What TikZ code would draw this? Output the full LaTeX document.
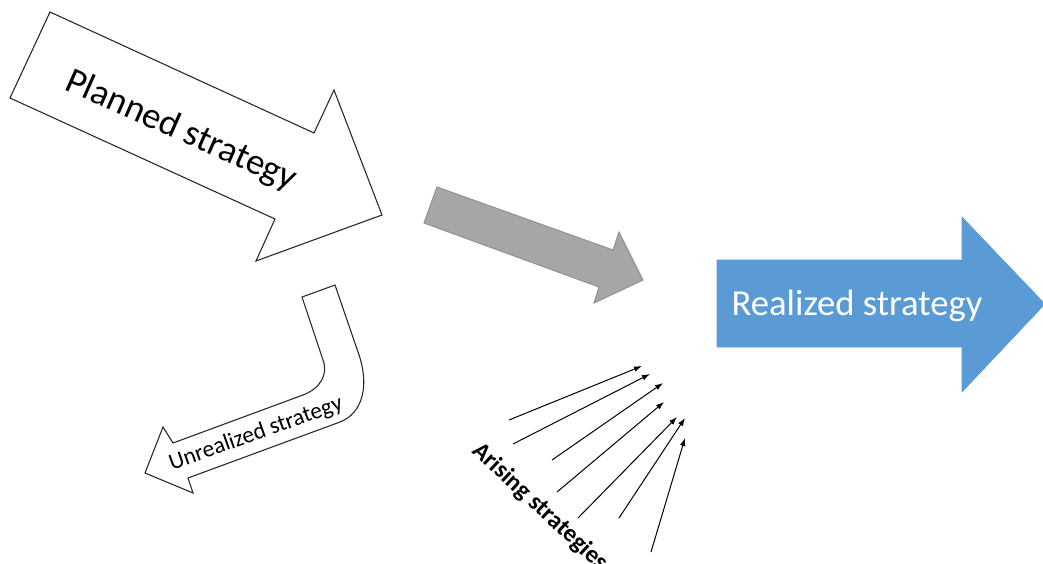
\documentclass[tikz,border=0pt]{standalone}
\usepackage{fontspec}
\setmainfont{Carlito}
\usetikzlibrary{arrows.meta}
\definecolor{realblue}{HTML}{5B9BD5}
\definecolor{midgray}{HTML}{A6A6A6}
\definecolor{edgegray}{HTML}{939393}
\begin{document}
\begin{tikzpicture}[x=0.75pt,y=-0.75pt,
  outline/.style={draw=black!85, line width=0.8pt, fill=white, line join=miter},
  grayshape/.style={draw=edgegray, line width=0.8pt, fill=midgray, line join=miter},
  blueshape/.style={draw=realblue, fill=realblue},
  bigtext/.style={font=\fontsize{27.5}{30}\selectfont},
  thinarrow/.style={draw=black, line width=0.75pt, -{Latex[length=6pt,width=4.2pt]}}]
\useasboundingbox (0,0) rectangle (1043,564);

% planned strategy: outlined block arrow
\draw[outline] (50,12) -- (314,133) -- (334,90) -- (382,215) -- (256,261)
  -- (275,219) -- (10,98) -- cycle;
\node[bigtext, rotate=-24] (planned) at (181,131) {Planned strategy};

% grey arrow towards the realized strategy
\draw[grayshape] (437,187) -- (613,250) -- (619,232) -- (643,280) -- (594,303)
  -- (599,287) -- (424,223) -- cycle;

% realized strategy: blue block arrow
\fill[blueshape] (717,260) -- (962,260) -- (962,217) -- (1045,304) -- (962,392)
  -- (962,347) -- (717,347) -- cycle;
\node[bigtext, text=white] (realized) at (857,306) {Realized strategy};

% unrealized strategy: bent outlined arrow
\draw[outline] (335,285) -- (358,352) .. controls (370,385) and (363,413) .. (340,422)
  -- (188,478) -- (193,493) -- (145,473) -- (163,427) -- (173,443)
  -- (303,395) .. controls (320.4,388.4) and (328.4,374.4) .. (323,360)
  -- (302,297) -- cycle;
\node[rotate=19.5, font=\fontsize{17.5}{20}\selectfont] (unrealized) at (256,434) {Unrealized strategy};

% arising strategies: fan of thin arrows
\coordinate (s1) at (509,420); \coordinate (e1) at (642,366);
\coordinate (s2) at (513,444); \coordinate (e2) at (650,374);
\coordinate (s3) at (552,460); \coordinate (e3) at (663,383);
\coordinate (s4) at (557,492); \coordinate (e4) at (664,402);
\coordinate (s5) at (578,518); \coordinate (e5) at (677,417);
\coordinate (s6) at (619,518); \coordinate (e6) at (685,418);
\coordinate (s7) at (651,552); \coordinate (e7) at (685,438);
\foreach \i in {1,...,7} \draw[thinarrow] (s\i) -- (e\i);
\node[rotate=-43, font=\bfseries\fontsize{18.5}{20}\selectfont] (arising) at (540,507) {Arising strategies};
\end{tikzpicture}
\end{document}
